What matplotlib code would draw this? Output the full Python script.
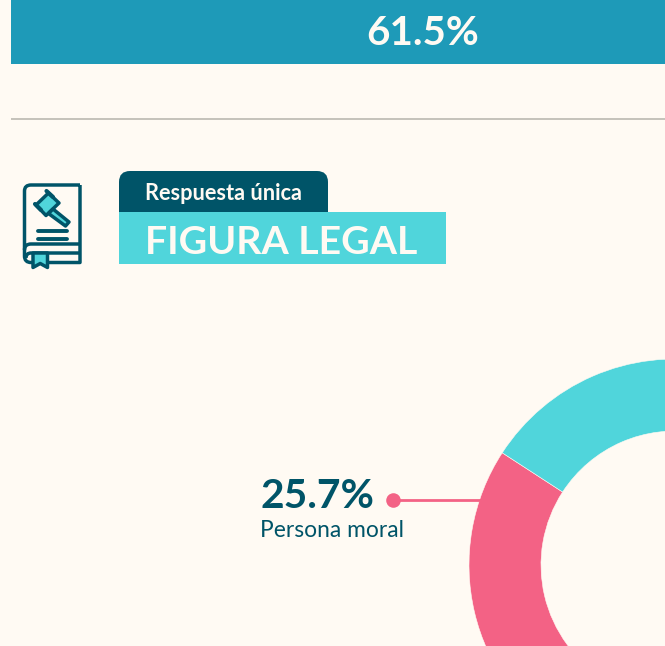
import matplotlib
matplotlib.use("Agg")
import matplotlib.pyplot as plt
from matplotlib.patches import Rectangle, FancyBboxPatch, Polygon, PathPatch
from matplotlib.path import Path

# data
donut_labels = ["Persona moral", "Otras"]
donut_values = [25.7, 74.3]
top_value = 61.5
top_label = "61.5%"
header_small = "Respuesta única"
header_big = "FIGURA LEGAL"

BG = "#FFFAF3"; BAR = "#1E9AB8"; DARK = "#005468"; TEAL = "#50D5DB"; PINK = "#F36285"; RULE = "#C5C2BA"
W, H = 665, 646
FONT = "Lato"
plt.rcParams["font.family"] = [FONT, "DejaVu Sans"]

fig = plt.figure(figsize=(W/100, H/100), dpi=100, facecolor=BG)
Y = lambda p: H - p

# top bar (clipped by the canvas)
axb = fig.add_axes([11/W, Y(64)/H, (W-11)/W, 64.5/H])
axb.barh([0], [top_value], height=1, color=BAR)
axb.set_xlim(0, 48.9); axb.set_ylim(-0.5, 0.5); axb.axis("off")
axb.text(top_value/2, 0.03, top_label, color=BG, fontsize=29, fontweight="bold",
         ha="center", va="center_baseline")

ax = fig.add_axes([0, 0, 1, 1])
ax.patch.set_alpha(0)

# donut
ax.pie(donut_values, colors=[PINK, TEAL], startangle=147, counterclock=True,
       center=(675, Y(565)), radius=206,
       wedgeprops=dict(width=72, edgecolor=BG, linewidth=0.4))
ax.set_xlim(0, W); ax.set_ylim(0, H); ax.set_aspect("auto"); ax.axis("off")

# rule
ax.plot([11, W], [Y(119), Y(119)], color=RULE, lw=1.4, solid_capstyle="butt")

# header
ax.add_patch(FancyBboxPatch((119, Y(225)), 209, 54, boxstyle="round,pad=0,rounding_size=11",
                            fc=DARK, ec="none", zorder=2))
ax.add_patch(Rectangle((119, Y(264)), 327, 52, fc=TEAL, ec="none", zorder=3))
ax.text(145, Y(200.5), header_small, color=BG, fontsize=15.7, fontweight="bold", zorder=4)
ax.text(145, Y(254.5), header_big, color=BG, fontsize=28.3, fontweight="bold", zorder=4)

# callout
ax.text(260, Y(507.5), f"{donut_values[0]}%", color=DARK, fontsize=29.3, fontweight="bold", ha="left")
ax.text(260, Y(537), donut_labels[0], color=DARK, fontsize=16.4, ha="left")
ax.plot([393, 481], [Y(500), Y(500)], color=PINK, lw=2)
ax.plot([393], [Y(500)], "o", color=PINK, ms=10.5, mew=0)

# icon
LW = 2.5
def pth(verts, codes, **kw):
    ax.add_patch(PathPatch(Path([(x, Y(y)) for x, y in verts], codes), **kw))
M, L, C = Path.MOVETO, Path.LINETO, Path.CURVE3
pth([(80,185),(31,185),(24.5,185),(24.5,191),(24.5,256),(24.5,262.5),(31,262.5),(80,262.5),(80,185)],
    [M,L,C,C,L,C,C,L,L], fc="none", ec=DARK, lw=LW, joinstyle="round")
pth([(80,244),(31,244),(24.5,244),(24.5,250)], [M,L,C,C], fc="none", ec=DARK, lw=LW)
pth([(80,253),(31,253),(26,253),(26,258)], [M,L,C,C], fc="none", ec=DARK, lw=LW)
ax.add_patch(Polygon([(33,Y(253)),(47.5,Y(253)),(47.5,Y(267.5)),(40.2,Y(263.5)),(33,Y(267.5))],
                     closed=True, fc=TEAL, ec=DARK, lw=LW, joinstyle="round"))
for yy in (231, 238.5):
    ax.plot([37.5, 67], [Y(yy), Y(yy)], color=DARK, lw=LW+0.3, solid_capstyle="round")
ax.add_patch(Polygon([(48.5,Y(193)),(59,Y(203)),(46,Y(215.5)),(36,Y(205))], closed=True,
                     fc=TEAL, ec=DARK, lw=LW, joinstyle="round"))
ax.plot([46.5,53],[Y(191),Y(197)], color=DARK, lw=LW+0.5, solid_capstyle="round")
ax.plot([35,41],[Y(204),Y(210)], color=DARK, lw=LW+0.5, solid_capstyle="round")
ax.add_patch(Polygon([(53,Y(209)),(69,Y(222)),(65.5,Y(226)),(48.5,Y(213.5))], closed=True,
                     fc=TEAL, ec=DARK, lw=LW, joinstyle="round"))

fig.savefig("out.png", dpi=100, facecolor=BG)
